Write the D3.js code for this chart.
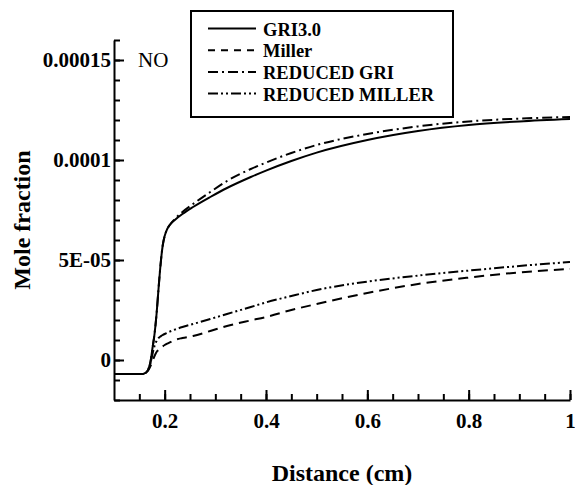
<!DOCTYPE html>
<html>
<head>
<meta charset="utf-8">
<script src="https://cdn.jsdelivr.net/npm/d3@7"></script>
<style>
  body { margin: 0; background: #fff; }
  svg { display: block; }
  text { font-family: "Liberation Serif", "Times New Roman", serif; }
</style>
</head>
<body>
<div id="graph"></div>
<script>
// distance (cm) shared by all series
var distance = [0.1, 0.155, 0.162, 0.168, 0.172, 0.176, 0.18, 0.184, 0.188, 0.192, 0.196, 0.2, 0.205, 0.21, 0.22, 0.235, 0.256, 0.29, 0.323, 0.37, 0.4, 0.45, 0.5, 0.6, 0.7, 0.8, 0.9, 1.0];

// NO mole fraction, units of 1e-5
var gri30      = [-0.7, -0.7, -0.65, -0.45, -0.1, 0.6, 1.3, 2.3, 3.6, 4.8, 5.7, 6.2, 6.55, 6.75, 7.0, 7.3, 7.65, 8.15, 8.6, 9.15, 9.47, 9.95, 10.37, 11.0, 11.45, 11.75, 11.93, 12.05];
var miller     = [-0.7, -0.7, -0.65, -0.5, -0.3, -0.05, 0.2, 0.4, 0.5, 0.6, 0.68, 0.75, 0.82, 0.88, 1.0, 1.1, 1.2, 1.45, 1.7, 1.98, 2.15, 2.5, 2.8, 3.35, 3.8, 4.12, 4.38, 4.55];
var reducedGri = [-0.7, -0.7, -0.65, -0.45, -0.1, 0.6, 1.3, 2.3, 3.6, 4.8, 5.7, 6.2, 6.55, 6.75, 7.05, 7.4, 7.8, 8.4, 8.95, 9.55, 9.87, 10.35, 10.75, 11.3, 11.68, 11.93, 12.07, 12.15];
var reducedMiller = [-0.7, -0.7, -0.65, -0.45, -0.15, 0.3, 0.7, 0.95, 1.1, 1.18, 1.25, 1.3, 1.36, 1.42, 1.52, 1.65, 1.8, 2.05, 2.3, 2.65, 2.88, 3.2, 3.5, 3.92, 4.22, 4.47, 4.7, 4.9];

var seriesNames = ["GRI3.0", "Miller", "REDUCED GRI", "REDUCED MILLER"];
var seriesValues = [gri30, miller, reducedGri, reducedMiller];
var seriesDash = ["none", "10,6", "10,4,2,4", "10,3,2,3,2,3"];

var xMajor = [0.2, 0.4, 0.6, 0.8, 1];
var xMajorLabels = ["0.2", "0.4", "0.6", "0.8", "1"];
var yMajor = [0, 5e-5, 1e-4, 1.5e-4];
var yMajorLabels = ["0", "5E-05", "0.0001", "0.00015"];

var width = 575, height = 485;
var margin = {top: 40, right: 5, bottom: 85, left: 114};

var svg = d3.select("#graph").append("svg")
  .attr("width", width)
  .attr("height", height);

var x_axis = d3.scaleLinear()
  .domain([0.1, 1])
  .range([margin.left, width - margin.right]);

var y_axis = d3.scaleLinear()
  .domain([-2e-5, 1.6e-4])
  .range([height - margin.bottom, margin.top]);

// minor ticks
svg.append("g")
  .attr("transform", "translate(0," + (height - margin.bottom) + ")")
  .call(d3.axisBottom(x_axis).tickValues(d3.range(0.15, 1.001, 0.05)).tickSize(-6).tickFormat(""))
  .call(function(g) { g.select(".domain").remove(); });

svg.append("g")
  .attr("transform", "translate(" + margin.left + ",0)")
  .call(d3.axisLeft(y_axis).tickValues(d3.range(-2e-5, 1.61e-4, 1e-5)).tickSize(-6).tickFormat(""))
  .call(function(g) { g.select(".domain").remove(); });

// major ticks
var xg = svg.append("g")
  .attr("transform", "translate(0," + (height - margin.bottom) + ")")
  .call(d3.axisBottom(x_axis).tickValues(xMajor).tickSizeInner(-10).tickSizeOuter(0).tickPadding(13)
    .tickFormat(function(d, i) { return xMajorLabels[i]; }));

var yg = svg.append("g")
  .attr("transform", "translate(" + margin.left + ",0)")
  .call(d3.axisLeft(y_axis).tickValues(yMajor).tickSizeInner(-10).tickSizeOuter(0).tickPadding(3)
    .tickFormat(function(d, i) { return yMajorLabels[i]; }));

svg.selectAll(".tick line").attr("stroke", "#000").attr("stroke-width", 2);
svg.selectAll(".domain").attr("stroke", "#000").attr("stroke-width", 2);
svg.selectAll(".tick text")
  .attr("fill", "#000")
  .style("font-family", "'Liberation Serif', 'Times New Roman', serif")
  .style("font-size", "21px")
  .style("font-weight", "bold");

// curves
var line = d3.line()
  .x(function(d, k) { return x_axis(distance[k]); })
  .y(function(d) { return y_axis(d * 1e-5); })
  .curve(d3.curveMonotoneX);

seriesValues.forEach(function(vals, i) {
  svg.append("path")
    .datum(vals)
    .style("fill", "none")
    .style("stroke", "#000")
    .style("stroke-width", 2)
    .style("stroke-dasharray", seriesDash[i])
    .attr("d", line);
});

// axis titles
svg.append("text")
  .attr("x", (x_axis.range()[0] + x_axis.range()[1]) / 2)
  .attr("y", 481)
  .attr("text-anchor", "middle")
  .style("font-size", "24px")
  .style("font-weight", "bold")
  .text("Distance (cm)");

svg.append("text")
  .attr("transform", "translate(30," + ((y_axis.range()[0] + y_axis.range()[1]) / 2) + ") rotate(-90)")
  .attr("text-anchor", "middle")
  .style("font-size", "24px")
  .style("font-weight", "bold")
  .text("Mole fraction");

svg.append("text")
  .attr("x", 138)
  .attr("y", 67)
  .style("font-size", "21px")
  .text("NO");

// legend
var legend = svg.append("g").attr("transform", "translate(191,11)");
legend.append("rect")
  .attr("width", 262)
  .attr("height", 106)
  .attr("fill", "#fff")
  .attr("stroke", "#000")
  .attr("stroke-width", 2);

seriesNames.forEach(function(name, i) {
  var yy = 17.5 + i * 21.7;
  legend.append("line")
    .attr("x1", 17).attr("x2", 65)
    .attr("y1", yy).attr("y2", yy)
    .attr("stroke", "#000")
    .attr("stroke-width", 2)
    .style("stroke-dasharray", i == 1 ? "7,6" : seriesDash[i]);
  legend.append("text")
    .attr("x", 72)
    .attr("y", yy + 7)
    .style("font-size", "18.5px")
    .style("font-weight", "bold")
    .text(name);
});
</script>
</body>
</html>
